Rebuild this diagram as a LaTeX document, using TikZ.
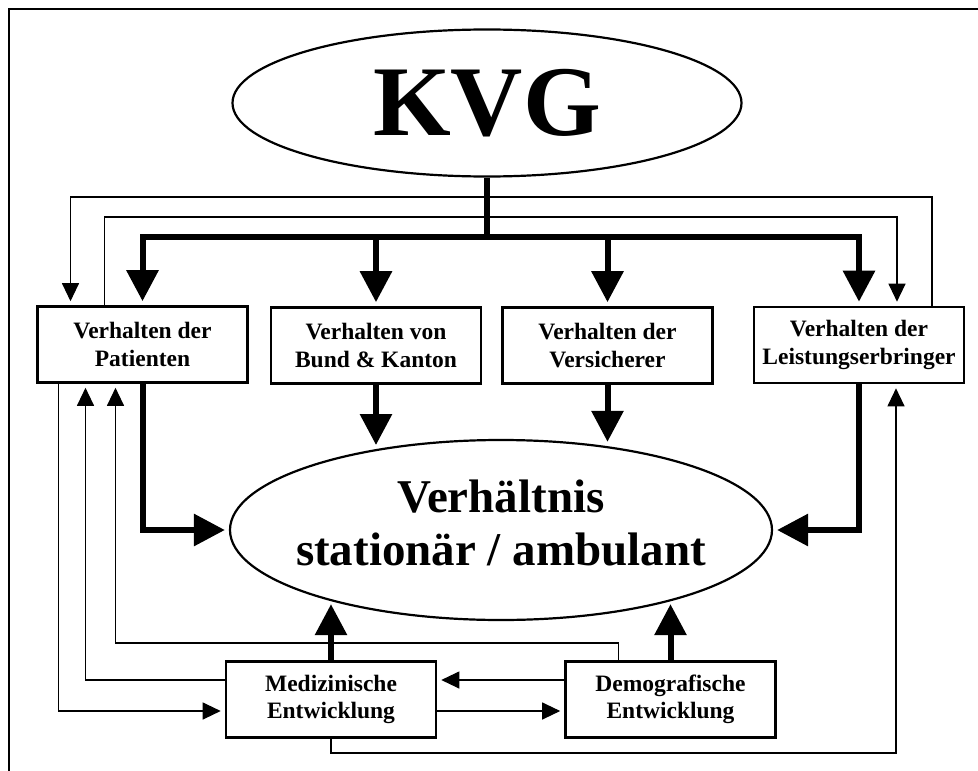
\documentclass[tikz,border=0pt]{standalone}
\usepackage{fontspec}
\setmainfont{Liberation Serif}
\usetikzlibrary{shapes.geometric,arrows.meta}

\begin{document}
\begin{tikzpicture}[x=1pt,y=-1pt,
  box/.style={draw,line width=2.6pt,minimum width=210pt,minimum height=76pt,inner sep=0pt,
    align=center,font=\fontsize{23.5}{27.5}\selectfont\bfseries},
  oval/.style={draw,ellipse,line width=2.2pt,inner sep=0pt,align=center},
  bar/.style={line width=6pt},
  big/.style={line width=6pt,-{Triangle[width=31pt,length=31pt]},shorten >=4pt},
  wire/.style={line width=1.1pt,-{Triangle[width=17pt,length=18pt]},shorten >=4pt}]
  \useasboundingbox (0,0) rectangle (978,771);
  \draw[line width=1.4pt] (9,771) -- (9,9) -- (978,9);

  % Ellipsen
  \node[oval,minimum width=509pt,minimum height=147pt,
    font=\fontsize{100}{100}\selectfont\bfseries] (kvg) at (487,103) {KVG};
  \node[oval,minimum width=542pt,minimum height=180pt,inner xsep=-16pt,text depth=15pt,
    font=\fontsize{47}{53}\selectfont\bfseries] (vh) at (501,530) {Verhältnis\\stationär / ambulant};

  % Akteure
  \node[box] (pat)   at (142.5,344.5) {Verhalten der\\Patienten};
  \node[box] (bund)  at (376,345.5)   {Verhalten von\\Bund \& Kanton};
  \node[box] (vers)  at (607.5,345.5) {Verhalten der\\Versicherer};
  \node[box] (leist) at (859,345)     {Verhalten der\\Leistungserbringer};
  \node[box] (med)   at (331,699.5)   {Medizinische\\Entwicklung};
  \node[box] (demo)  at (670.5,699.5) {Demografische\\Entwicklung};

  % Hoehen der Leitungen
  \coordinate (bus)  at (0,237);
  \coordinate (lvlA) at (0,197);
  \coordinate (lvlB) at (0,217);
  \coordinate (lvlC) at (0,643);
  \coordinate (lvlD) at (0,753);

  \coordinate (pA) at ([xshift=-38pt]pat.north);
  \coordinate (pB) at ([xshift=-72pt]pat.north);
  \coordinate (lA) at ([xshift=38pt]leist.north);
  \coordinate (lB) at ([xshift=73pt]leist.north);
  \coordinate (pC) at ([xshift=-84pt]pat.south);
  \coordinate (pD) at ([xshift=-57pt]pat.south);
  \coordinate (pE) at ([xshift=-27pt]pat.south);
  \coordinate (lC) at ([xshift=37pt]leist.south);
  \coordinate (dN) at ([xshift=-52pt]demo.north);

  % KVG wirkt auf alle Akteure
  \draw[bar] (kvg.south) -- (kvg.south |- bus);
  \draw[big] (kvg.south |- bus) -| (pat.north);
  \draw[big] (kvg.south |- bus) -| (leist.north);
  \foreach \n in {bund,vers}
    \draw[big] (\n.north |- bus) -- (\n.north);

  % Akteure auf das Verhaeltnis
  \draw[big] (bund.south) -- (bund.south |- vh.147);
  \draw[big] (vers.south) -- (vers.south |- vh.39);
  \draw[big] (pat.south) |- (vh.west);
  \draw[big] (leist.south) |- (vh.east);
  \draw[big] (med.north) -- (med.north |- vh.202);
  \draw[big] (demo.north) -- (demo.north |- vh.338);

  % Rueckkopplungen
  \draw[wire] (pA) -- (pA |- lvlB) -| (lA);
  \draw[wire] (lB) -- (lB |- lvlA) -| (pB);
  \draw[wire] (pC) |- ([yshift=-11.5pt]med.west);
  \draw[wire] ([yshift=19.5pt]med.west) -| (pD);
  \draw[wire] (dN) -- (dN |- lvlC) -| (pE);
  \draw[wire] ([yshift=19.5pt]demo.west) -- ([yshift=19.5pt]med.east);
  \draw[wire] ([yshift=-11.5pt]med.east) -- ([yshift=-11.5pt]demo.west);
  \draw[wire] (med.south) -- (med.south |- lvlD) -| (lC);
\end{tikzpicture}
\end{document}
